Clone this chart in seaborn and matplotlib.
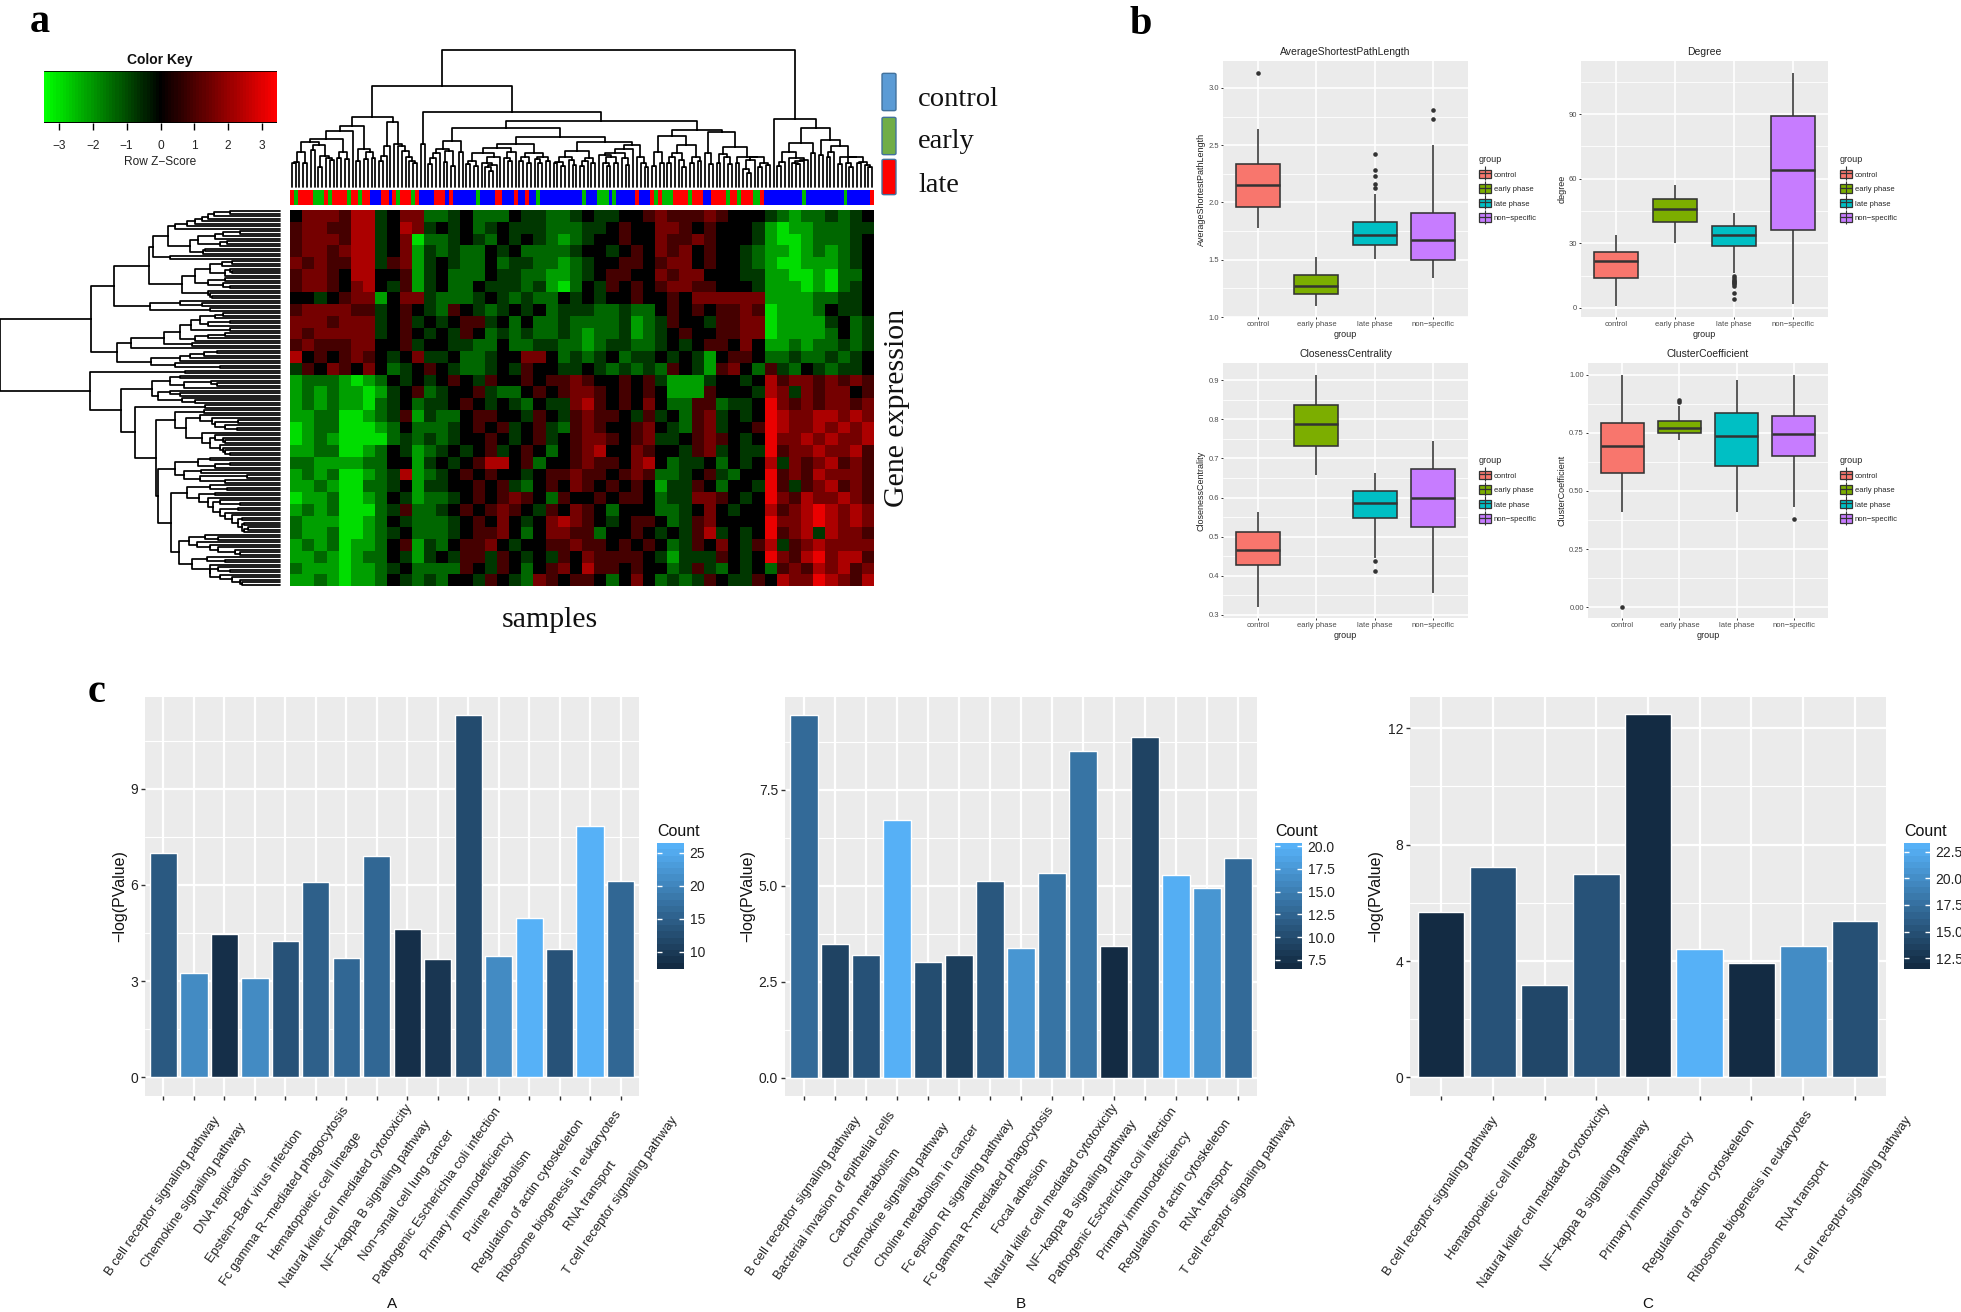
# plot.py
import numpy as np
import pandas as pd
import matplotlib
matplotlib.use("Agg")
import matplotlib.pyplot as plt
import seaborn as sns
from matplotlib.colors import LinearSegmentedColormap, ListedColormap, Normalize
from matplotlib.legend_handler import HandlerTuple
from matplotlib.lines import Line2D
from matplotlib.patches import FancyBboxPatch, Patch
from matplotlib.ticker import AutoMinorLocator

# -----------------------------------
# 1. Panel a data
# -----------------------------------
# one char per block of the heatmap, blocks of six only to keep the rows countable
z_levels = {"A": -2.9, "B": -2.1, "C": -1.4, "D": -0.7, ".": 0.0,
            "e": 0.9, "f": 1.6, "g": 2.3, "h": 3.1}
heat_rows = [
    ".fffeg gD.ffC CD.CCC .DDCCD .DD..e feeefe ...DCB CCDCD.",
    "effeeg gD.gfD .D.CD. DDDCCC DD.e.. ffe.e. ..DBAB BCCCDD",
    "efffeg gD.fAC CD.DC. D.DCBC D..e.. feefe. ..DBAA BCCCD.",
    "effefg gD.fBD CDCC.D .CCCCD ..D.e. fef.e. .DCBBA BCBCD.",
    "fefeeg gDefBD .DCC.C DDCCBC D..ee. eff.e. .DCBAA BBBCD.",
    "effe.g g..eBD .CCC.D DCCBBC D.ee.. feff.. .DDBBA ABACC.",
    "effe.f g.DeBD .CC.DD DCDBAC .De.e. effee. ..DBBB ABACD.",
    "..D.ef fB.ffD CCCD.D CDCC.D .D..e. .e.fff fffBBB BCCDD.",
    "effffe eD.e.D Ce.DCD .D.CDD DCCDCC .e.e.e efeABB BC.DD.",
    "fffeff fD.eD. D.eeD. C.CCDC CCCDBC De..De effABB BBD.CD",
    "feffff fD.e.D .De.CD CDCCDC BCCDBC D.e..e effABB BBC.CD",
    "efeeef f..eD. .DDCC. CCDDCC BCDDCC D.D.ee .f.BBC BCCDCD",
    "g.e.ef e.D.fD D.CCD. .ff.CD CD.CDD .D.DB. ee.CCD CCDCD.",
    "De.fe. f.CD.e .DCCD. De..DD .DCDCD Ce.DBe f.CeDC .DCDD.",
    "BCCCBA BC.D.D .e.De. .e.eef e..e.e DBBBD. .D.gef fefefe",
    "BCBCBB ABD.eC D..eDC C.e.ef fe.e.e .BBBe. ..DgfD feff.e",
    "BCBCBB ACD.CD D.e.D. DC.DDf ge.e.f .CCeeC DD.hfe feffef",
    "BBCCAA BCDeBD CC.ee. .De.De fee.De D.CefD .D.hgf fggfgf",
    "ABCCAA ABC.CC CD.e.e D.eDCe fe..ef .DCefD ..ehgf fgfgfg",
    "ABCBAA AACDCD CD..e. D.eD.e ffe.ef DD.efe .D.hff gfgffg",
    "BBCCAA BC.DBC D.D.eD .e.C.e fg..fe ..DefD .DDhef fgffge",
    "CCBBBB CC..BD .D.egg .eC..e fee.fg .CDD.C .D.gDf efgefe",
    "BCBCAA BCDgBC D.e.e. .D.eef ee.efe CCD.eD C..hef egfffe",
    "BBCBAA CCD.BD D..e.e DC.e.f e.e.e. BDDe.C ..DheD efgefe",
    "ABBCAA BC.DBC CD.e.e fe.Ce. .e.ee. CDDffe .D.hfe gffgfe",
    "BCBCAA ACDeCC D.e.ef e.De.f e.C... CCD.f. D..gef ghgfgf",
    "CBBBAA BC.DCC CD.e.f .D.fgf e.D.ee .CDef. ...hff ghgfgf",
    "CBBCAA BCD.CC CD.eef .C.ffe eC..e. D.DegD .D.hef gDgffe",
    "BCBCAB BC.eBD C.eef. D..eef ee.e.e .CDe.f .DegDe fgffff",
    "BBCBAB CC.DBD .DeeDe .D.De. feeee. DBDDDe .D.hfe ghfgge",
    "CBBBAB BCD.CC CCe.De .C.ef. gee.e. .CDeDC .D.Cef egfgef",
    "BBCBAB BC.DCD C..De. DCfe.e e.C.f. CDCDe. DDe.gf fhgfeg",
]

# sample classes along the colour strip: (class, number of samples)
sample_runs = [
    ("late", 1), ("early", 1), ("late", 4), ("early", 3), ("late", 1), ("early", 1),
    ("late", 4), ("early", 1), ("late", 2), ("early", 1), ("late", 2), ("control", 3),
    ("late", 2), ("control", 1), ("late", 1), ("early", 1), ("late", 3), ("early", 1),
    ("late", 1), ("control", 4), ("late", 3), ("control", 1), ("late", 1), ("control", 6),
    ("early", 1), ("control", 4), ("late", 2), ("control", 3), ("late", 1), ("control", 2),
    ("late", 1), ("control", 2), ("early", 1), ("control", 11), ("early", 1), ("control", 3),
    ("early", 3), ("control", 1), ("early", 1), ("control", 5), ("late", 1), ("control", 3),
    ("late", 1), ("early", 1), ("late", 1), ("early", 3), ("late", 4), ("early", 1),
    ("late", 3), ("control", 2), ("late", 4), ("early", 1), ("late", 2), ("early", 1),
    ("late", 3), ("early", 2), ("late", 1), ("control", 10), ("early", 1), ("control", 10),
    ("early", 1), ("control", 6), ("late", 1),
]

# merge height between each pair of neighbouring leaves, this fixes the whole tree
col_merge_heights = [
    70, 75, 103, 70, 133, 110, 125, 60, 92, 85, 80, 143, 85, 105, 82, 166, 183,
    78, 112, 82, 103, 85, 208, 78, 93, 123, 193, 128, 122, 106, 90, 78, 70, 300,
    128, 222, 68, 85, 100, 112, 75, 108, 62, 136, 103, 175,
    68, 78, 62, 100, 72, 60, 48, 65, 90, 115, 85, 78, 103, 128, 78, 90, 70, 100, 82, 72, 90, 78, 148,
    70, 75, 62, 88, 80, 65, 108, 62, 78, 85, 72, 133, 95, 70, 62, 88, 70, 100, 85, 65, 112, 125, 90, 72, 60, 198,
    62, 105, 72, 153, 70, 88, 100, 80, 60, 125, 70, 90, 78, 170,
    100, 68, 163, 72, 98, 90, 68, 120, 70, 90, 55, 42, 80, 90, 60, 70, 65, 408,
    203, 62, 75, 105, 85, 72, 68, 78, 80, 130, 100, 175, 95, 140, 88, 105, 122, 68, 88, 72, 60, 88, 70, 75, 65, 60,
]
row_merge_heights = [
    50, 66, 72, 78, 85, 93, 105, 112, 40, 57, 65, 82, 53, 60, 90, 75, 77, 127, 110, 131,
    48, 58, 70, 50, 48, 55, 85, 55, 72, 57, 50, 98, 72, 70, 68, 166, 100, 78, 130, 70, 189,
    57, 65, 80, 50, 72, 89, 50, 100, 55, 72, 85, 116, 88, 149, 163, 63, 76, 90, 100, 129, 105, 60, 280,
    95, 190, 100, 110, 69, 63, 96, 128, 110, 100, 122, 98, 85, 159, 75, 145,
    76, 105, 80, 68, 42, 65, 55, 43, 94, 78, 65, 57, 55, 70, 60, 57, 55, 50, 124,
    70, 82, 50, 65, 105, 79, 96, 33, 80, 55, 122,
    70, 53, 93, 65, 81, 72, 60, 40, 67, 42, 60, 55, 48, 38, 42, 36, 38, 32, 36, 109,
    75, 62, 91, 83, 70, 62, 45, 40, 101, 73, 55, 88, 70, 62, 50, 70, 60, 48, 40, 38,
]

key_ticks = [-3, -2, -1, 0, 1, 2, 3]
key_limit = 3.44

# -----------------------------------
# 2. Panel b data: [low, q1, median, q3, high] for each group
# -----------------------------------
group_labels = ["control", "early phase", "late phase", "non\u2212specific"]
group_colors = ["#F8766D", "#7CAE00", "#00BFC4", "#C77CFF"]

aspl_summary = [[1.78, 1.96, 2.15, 2.34, 2.64], [1.10, 1.20, 1.27, 1.37, 1.52],
                [1.51, 1.625, 1.72, 1.83, 2.07], [1.34, 1.495, 1.67, 1.91, 2.505]]
aspl_outliers = [[3.13], [], [2.42, 2.285, 2.23, 2.16, 2.13], [2.81, 2.73]]

degree_summary = [[1, 14, 22, 26, 34], [30, 40, 46, 50.5, 57],
                  [16, 28.6, 34, 38, 44], [2, 36, 64, 89, 109]]
degree_outliers = [[], [], [15, 14, 13, 12.5, 12, 11.5, 11, 10, 7, 4], []]

closeness_summary = [[0.319, 0.427, 0.465, 0.512, 0.564], [0.657, 0.733, 0.789, 0.836, 0.914],
                     [0.446, 0.548, 0.585, 0.617, 0.662], [0.356, 0.524, 0.60, 0.672, 0.745]]
closeness_outliers = [[], [], [0.437, 0.412], []]

cluster_summary = [[0.408, 0.578, 0.693, 0.792, 1.0], [0.72, 0.748, 0.772, 0.80, 0.866],
                   [0.411, 0.606, 0.737, 0.833, 0.977], [0.43, 0.651, 0.746, 0.823, 1.0]]
cluster_outliers = [[0.0], [0.892, 0.881], [], [0.378]]

# -----------------------------------
# 3. Panel c data
# -----------------------------------
terms_a = ["B cell receptor signaling pathway", "Chemokine signaling pathway", "DNA replication",
           "Epstein\u2212Barr virus infection", "Fc gamma R\u2212mediated phagocytosis",
           "Hematopoietic cell lineage", "Natural killer cell mediated cytotoxicity",
           "NF\u2212kappa B signaling pathway", "Non\u2212small cell lung cancer",
           "Pathogenic Escherichia coli infection", "Primary immunodeficiency", "Purine metabolism",
           "Regulation of actin cytoskeleton", "Ribosome biogenesis in eukaryotes", "RNA transport",
           "T cell receptor signaling pathway"]
pvalue_a = [6.99, 3.27, 4.46, 3.09, 4.24, 6.09, 3.73, 6.91, 4.64, 3.68, 11.31, 3.78, 4.96, 3.99, 7.83, 6.14]
count_a = [14, 21, 8, 21, 13, 15, 16, 16, 8, 9, 12, 21, 26.5, 13, 26.5, 16]

terms_b = ["B cell receptor signaling pathway", "Bacterial invasion of epithelial cells", "Carbon metabolism",
           "Chemokine signaling pathway", "Choline metabolism in cancer", "Fc epsilon RI signaling pathway",
           "Fc gamma R\u2212mediated phagocytosis", "Focal adhesion", "Natural killer cell mediated cytotoxicity",
           "NF\u2212kappa B signaling pathway", "Pathogenic Escherichia coli infection", "Primary immunodeficiency",
           "Regulation of actin cytoskeleton", "RNA transport", "T cell receptor signaling pathway"]
pvalue_b = [9.45, 3.49, 3.2, 6.72, 3.02, 3.2, 5.11, 3.37, 5.32, 8.51, 3.43, 8.86, 5.28, 4.93, 5.73]
count_b = [13, 9, 10.5, 20.3, 10, 8.5, 11, 17.5, 14, 14, 6.5, 9, 20, 17.5, 13]

terms_c = ["B cell receptor signaling pathway", "Hematopoietic cell lineage",
           "Natural killer cell mediated cytotoxicity", "NF\u2212kappa B signaling pathway",
           "Primary immunodeficiency", "Regulation of actin cytoskeleton",
           "Ribosome biogenesis in eukaryotes", "RNA transport", "T cell receptor signaling pathway"]
pvalue_c = [5.68, 7.22, 3.19, 7.0, 12.47, 4.40, 3.94, 4.51, 5.37]
count_c = [11.5, 15, 14, 15, 11.5, 23.3, 11.5, 20, 14.8]

# -----------------------------------
# 4. Figure set-up
# -----------------------------------
W, H = 1961, 1312
sns.set_theme(style="darkgrid", rc={"axes.facecolor": "#EBEBEB", "grid.color": "white"})
plt.rcParams["font.family"] = ["Liberation Sans", "DejaVu Sans"]
fig = plt.figure(figsize=(W / 100, H / 100), dpi=100, facecolor="white")

greenred = LinearSegmentedColormap.from_list("greenred", ["#00FF00", "#000000", "#FF0000"], N=75)
count_cmap = LinearSegmentedColormap.from_list("count", ["#132B43", "#56B1F7"])


def px_axes(x0, y0, x1, y1):
    return fig.add_axes([x0 / W, 1 - y1 / H, (x1 - x0) / W, (y1 - y0) / H])


def px_text(x, y, s, **kw):
    fig.text(x / W, 1 - y / H, s, **kw)


def tree_lines(gaps):
    # split at the largest gap again and again, each split is one merge of the tree
    pos_all, height_all = [], []

    def build(lo, hi):
        if lo == hi:
            return lo + 0.5, 0
        split = lo + int(np.argmax(gaps[lo:hi]))
        left_pos, left_h = build(lo, split)
        right_pos, right_h = build(split + 1, hi)
        top = gaps[split]
        pos_all.extend([left_pos, left_pos, right_pos, right_pos, np.nan])
        height_all.extend([left_h, top, top, right_h, np.nan])
        return (left_pos + right_pos) / 2, top

    build(0, len(gaps))
    return pos_all, height_all


def style_panel(ax, lw):
    ax.set_axisbelow(True)
    ax.yaxis.set_minor_locator(AutoMinorLocator(2))
    ax.grid(True, which="major", color="white", linewidth=lw)
    ax.grid(True, which="minor", axis="y", color="white", linewidth=lw / 2)
    ax.grid(False, which="minor", axis="x")
    ax.tick_params(which="minor", length=0)
    for side in ax.spines:
        ax.spines[side].set_visible(False)


# -----------------------------------
# 5. Panel a: heatmap with dendrograms
# -----------------------------------
heat_matrix = np.array([[z_levels[c] for c in row.replace(" ", "")] for row in heat_rows])
ax_heat = px_axes(290, 210, 874, 586)
sns.heatmap(heat_matrix, cmap=greenred, vmin=-key_limit, vmax=key_limit, cbar=False,
            xticklabels=False, yticklabels=False, ax=ax_heat)

class_codes = {"control": 0, "early": 1, "late": 2}
sample_codes = [class_codes[name] for name, size in sample_runs for _ in range(size)]
ax_strip = px_axes(290, 190, 874, 205)
sns.heatmap(np.array([sample_codes]), cmap=ListedColormap(["#0000FF", "#00BB00", "#FF0000"]),
            vmin=0, vmax=2, cbar=False, xticklabels=False, yticklabels=False, ax=ax_strip)

ax_top = px_axes(290, 50, 874, 187)
leaf_pos, merge_h = tree_lines(col_merge_heights)
ax_top.plot(leaf_pos, merge_h, color="black", linewidth=1.25, clip_on=False)
ax_top.set_xlim(0, len(col_merge_heights) + 1)
ax_top.set_ylim(0, max(col_merge_heights))
ax_top.axis("off")

ax_left = px_axes(0, 210, 280, 586)
leaf_pos, merge_h = tree_lines(row_merge_heights)
ax_left.plot(merge_h, leaf_pos, color="black", linewidth=1.25, clip_on=False)
ax_left.set_ylim(len(row_merge_heights) + 1, 0)
ax_left.set_xlim(max(row_merge_heights), 0)
ax_left.axis("off")

# colour key
ax_key = px_axes(44, 71, 277, 123)
sns.heatmap(np.linspace(-key_limit, key_limit, 75)[None, :], cmap=greenred, vmin=-key_limit, vmax=key_limit,
            cbar=False, xticklabels=False, yticklabels=False, ax=ax_key)
ax_key.set_xticks([(t + key_limit) / (2 * key_limit) * 75 for t in key_ticks])
ax_key.set_xticklabels([str(t).replace("-", "\u2212") for t in key_ticks], fontsize=8.6, rotation=0)
ax_key.tick_params(axis="x", length=5, width=1, color="black", pad=7, labelcolor="#222222", bottom=True)
ax_key.axhline(1, color="black", linewidth=1.4)
ax_key.axhline(0, color="black", linewidth=0.6)
px_text(160, 60, "Color Key", fontsize=10, fontweight="bold", ha="center", va="center", color="#111111")
px_text(160, 162, "Row Z\u2212Score", fontsize=8.6, ha="center", va="center", color="#222222")

# class legend, it is a plain drawing in the reference
legend_names = ["control", "early", "late"]
legend_fill = ["#5B9BD5", "#70AD47", "#FF0000"]
legend_top = [73, 117, 159]
legend_bottom = [111, 155, 195]
legend_text_y = [99, 141, 185]
for name, fill, top, bottom, text_y in zip(legend_names, legend_fill, legend_top, legend_bottom, legend_text_y):
    fig.add_artist(FancyBboxPatch((883 / W, 1 - (bottom - 1) / H), 12 / W, (bottom - top - 2) / H,
                                  boxstyle="round,pad=0.0005,rounding_size=0.001",
                                  transform=fig.transFigure, facecolor=fill, edgecolor="#41719C", linewidth=1))
    px_text(918, text_y, name, family="Liberation Serif", fontsize=20.5, ha="left", va="center", color="#111111")

px_text(550, 620, "samples", family="Liberation Serif", fontsize=21.5, ha="center", va="center", color="#111111")
px_text(897, 408, "Gene expression", family="Liberation Serif", fontsize=21.5, rotation=90,
        ha="center", va="center", color="#111111")

px_text(40, 23, "a", family="Liberation Serif", fontsize=29, fontweight="bold", ha="center", va="center", color="black")
px_text(1141, 25, "b", family="Liberation Serif", fontsize=29, fontweight="bold", ha="center", va="center", color="black")
px_text(97, 693, "c", family="Liberation Serif", fontsize=29, fontweight="bold", ha="center", va="center", color="black")


# -----------------------------------
# 6. Panel b: boxplots
# -----------------------------------
def box_panel(box_px, summary, outliers, title, ylabel, yticks, yticklabels, ylim, ylabel_px, legend_px):
    ax = px_axes(*box_px)
    box_df = pd.DataFrame([(g, v) for g, vals in zip(group_labels, summary) for v in vals],
                          columns=["group", "value"])
    out_df = pd.DataFrame([(g, v) for g, vals in zip(group_labels, outliers) for v in vals],
                          columns=["group", "value"])
    sns.boxplot(data=box_df, x="group", y="value", hue="group", order=group_labels, hue_order=group_labels,
                palette=group_colors, width=0.75, whis=(0, 100), fliersize=0, saturation=1,
                linecolor="#333333", linewidth=1.15, showcaps=False, medianprops={"linewidth": 1.8},
                legend=False, ax=ax)
    sns.stripplot(data=out_df, x="group", y="value", order=group_labels, jitter=False, color="#333333",
                  size=3.3, ax=ax)
    ax.set_xlim(-0.6, 3.6)
    ax.set_ylim(*ylim)
    ax.set_yticks(yticks)
    ax.set_yticklabels(yticklabels)
    style_panel(ax, 1.2)
    ax.tick_params(axis="both", which="major", length=1.5, width=0.7, color="#333333",
                   labelsize=5.5, labelcolor="#4D4D4D", pad=1.5, bottom=True, left=True)
    ax.set_title(title, fontsize=7.5, pad=4.5, color="#222222")
    ax.set_xlabel("group", fontsize=6.5, color="#222222")
    ax.xaxis.set_label_coords(0.5, -0.05)
    ax.set_ylabel(ylabel, fontsize=6.5, color="#222222", va="center")
    ax.yaxis.set_label_coords((ylabel_px - box_px[0]) / (box_px[2] - box_px[0]), 0.5)
    handles = [(Patch(facecolor=c, edgecolor="#333333", linewidth=0.9),
                Line2D([], [], color="#333333", linewidth=0.9, marker="|", markersize=10.5, markeredgewidth=0.8))
               for c in group_colors]
    ax.legend(handles, group_labels, title="group", loc="upper left",
              bbox_to_anchor=(legend_px[0] / W, 1 - legend_px[1] / H), bbox_transform=fig.transFigure,
              handler_map={tuple: HandlerTuple(ndivide=1, pad=0)}, numpoints=1, frameon=False, fontsize=5.5,
              title_fontsize=6.5, handlelength=1.6, handleheight=1.3, labelspacing=0.76, handletextpad=0.35,
              borderpad=0, borderaxespad=0, alignment="left")


box_panel((1223, 61, 1468, 317), aspl_summary, aspl_outliers, "AverageShortestPathLength",
          "AverageShortestPathLength", [1.0, 1.5, 2.0, 2.5, 3.0], ["1.0", "1.5", "2.0", "2.5", "3.0"],
          (1.0, 3.235), 1201, (1479, 155))
box_panel((1581, 61, 1828, 317), degree_summary, degree_outliers, "Degree", "degree",
          [0, 30, 60, 90], ["0", "30", "60", "90"], (-4.2, 114.6), 1562, (1840, 155))
box_panel((1223, 363, 1468, 618), closeness_summary, closeness_outliers, "ClosenessCentrality",
          "ClosenessCentrality", [0.3, 0.4, 0.5, 0.6, 0.7, 0.8, 0.9],
          ["0.3", "0.4", "0.5", "0.6", "0.7", "0.8", "0.9"], (0.292, 0.944), 1201, (1479, 456))
box_panel((1588, 363, 1828, 618), cluster_summary, cluster_outliers, "ClusterCoefficient",
          "ClusterCoefficient", [0, 0.25, 0.5, 0.75, 1.0], ["0.00", "0.25", "0.50", "0.75", "1.00"],
          (-0.046, 1.05), 1562, (1840, 456))


# -----------------------------------
# 7. Panel c: enrichment bars
# -----------------------------------
def bar_panel(bar_px, terms, values, counts, yticks, yticklabels, ylim, ylabel_px, xlabel,
              key_px, key_range, key_ticks_c, key_labels):
    ax = px_axes(*bar_px)
    norm = Normalize(*key_range)
    bar_colors = [count_cmap(norm(c)) for c in counts]
    sns.barplot(x=list(range(len(terms))), y=values, hue=list(range(len(terms))), palette=bar_colors,
                width=0.9, saturation=1, legend=False, ax=ax)
    ax.set_xlim(-0.6, len(terms) - 0.4)
    ax.set_ylim(*ylim)
    ax.set_yticks(yticks)
    ax.set_yticklabels(yticklabels)
    ax.set_xticks(range(len(terms)))
    ax.set_xticklabels(terms, rotation=55, ha="center", va="center")
    style_panel(ax, 1.6)
    ax.tick_params(axis="y", which="major", length=3, width=1, color="#333333", labelsize=10,
                   labelcolor="#222222", pad=2, left=True)
    ax.tick_params(axis="x", which="major", length=3, width=1, color="#333333", labelsize=9.4,
                   labelcolor="#222222", pad=69, bottom=True)
    ax.set_ylabel("\u2212log(PValue)", fontsize=11.5, color="#111111", va="center")
    ax.yaxis.set_label_coords((ylabel_px - bar_px[0]) / (bar_px[2] - bar_px[0]), 0.5)
    ax.set_xlabel(xlabel, fontsize=11, color="#111111")
    ax.xaxis.set_label_coords(0.5, -0.504)

    cax = px_axes(*key_px)
    levels = np.linspace(key_range[1], key_range[0], 20)[:, None]
    sns.heatmap(levels, cmap=count_cmap, vmin=key_range[0], vmax=key_range[1], cbar=False,
                xticklabels=False, yticklabels=False, ax=cax)
    tick_y = [(key_range[1] - t) / (key_range[1] - key_range[0]) * 20 for t in key_ticks_c]
    cax.hlines(tick_y, 0, 0.2, color="white", linewidth=1)
    cax.hlines(tick_y, 0.8, 1, color="white", linewidth=1)
    cax.yaxis.tick_right()
    cax.set_yticks(tick_y)
    cax.set_yticklabels(key_labels, rotation=0, fontsize=10, color="#222222")
    cax.tick_params(axis="y", length=0, pad=4, right=False)
    px_text(key_px[0], 831, "Count", fontsize=11.5, ha="left", va="center", color="#111111")


bar_panel((145, 697, 639, 1096), terms_a, pvalue_a, count_a, [0, 3, 6, 9], ["0", "3", "6", "9"],
          (-0.577, 11.86), 120, "A", (657, 843, 684, 969), (7.4, 26.5),
          [10, 15, 20, 25], ["10", "15", "20", "25"])
bar_panel((785, 697, 1257, 1096), terms_b, pvalue_b, count_b, [0, 2.5, 5, 7.5], ["0.0", "2.5", "5.0", "7.5"],
          (-0.48, 9.91), 748, "B", (1275, 843, 1302, 969), (6.5, 20.36),
          [7.5, 10, 12.5, 15, 17.5, 20], ["7.5", "10.0", "12.5", "15.0", "17.5", "20.0"])
bar_panel((1410, 697, 1886, 1096), terms_c, pvalue_c, count_c, [0, 4, 8, 12], ["0", "4", "8", "12"],
          (-0.636, 13.07), 1376, "C", (1904, 843, 1930, 969), (11.5, 23.3),
          [12.5, 15, 17.5, 20, 22.5], ["12.5", "15.0", "17.5", "20.0", "22.5"])

# -----------------------------------
# 8. Save
# -----------------------------------
fig.savefig("out.png", dpi=100, facecolor="white")
